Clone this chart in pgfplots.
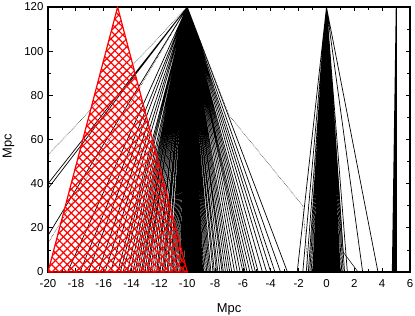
\documentclass[border=0pt]{standalone}
\usepackage{fontspec}
\setmainfont{Liberation Sans}
\usepackage{pgfplots}
\pgfplotsset{compat=1.18}
\usetikzlibrary{patterns.meta}
\begin{document}
\begin{tikzpicture}
\useasboundingbox (-48bp,-44bp) rectangle (367bp,272bp);
\begin{axis}[
 at={(0,0)}, anchor=south west,
 scale only axis, width=362bp, height=265bp,
 xmin=-20, xmax=6, ymin=0, ymax=120,
 xtick={-20,-18,...,6}, ytick={0,20,...,120},
 minor x tick num=1, minor y tick num=1,
 tick align=inside, major tick length=4.5bp, minor tick length=3bp,
 axis line style={line width=1.1bp},
 every tick/.style={black, line width=0.8bp},
 tick label style={font=\fontsize{11.5}{13}\selectfont},
 xticklabel style={yshift=-4bp},
 yticklabel style={xshift=-1bp},
 /pgf/number format/assume math mode=true,
 xlabel={Mpc}, ylabel={Mpc},
 label style={font=\fontsize{13}{15}\selectfont},
 xlabel style={at={(axis description cs:0.5,-0.1547)}, anchor=base},
 ylabel style={at={(axis description cs:-0.1008,0.474)}, anchor=base},
 clip=true,
]
% fan from (-10,120)
\addplot[black, line width=0.7bp, line join=bevel, mark=none] coordinates {
(-10,120) (-25.0,0) (-10,120) (-24.6,0) (-10,120) (-21.6,0) (-10,120) (-18.6,0)
(-10,120) (-17.7,0) (-10,120) (-17.1,0) (-10,120) (-16.4,0) (-10,120) (-15.9,0)
(-10,120) (-15.5,0) (-10,120) (-15.0,0) (-10,120) (-14.8,0) (-10,120) (-14.6,0)
(-10,120) (-14.3,0) (-10,120) (-14.1,0) (-10,120) (-13.9,0) (-10,120) (-13.75,0)
(-10,120) (-13.6,0) (-10,120) (-13.45,0) (-10,120) (-13.3,0) (-10,120) (-13.2,0)
(-10,120) (-13.05,0) (-10,120) (-12.9,0) (-10,120) (-12.8,0) (-10,120) (-12.65,0)
(-10,120) (-12.5,0) (-10,120) (-12.35,0) (-10,120) (-12.2,0) (-10,120) (-12.1,0)
(-10,120) (-11.95,0) (-10,120) (-11.8,0) (-10,120) (-11.7,0) (-10,120) (-11.6,0)
(-10,120) (-11.45,0) (-10,120) (-11.35,0) (-10,120) (-11.2,0) (-10,120) (-11.1,0)
(-10,120) (-11.0,0) (-10,120) (-10.9,0) (-10,120) (-10.8,0) (-10,120) (-10.7,0)
(-10,120) (-10.6,0) (-10,120) (-10.5,0) (-10,120) (-10.42,0) (-10,120) (-10.35,0)
(-10,120) (-10.28,0) (-10,120) (-10.2,0) (-10,120) (-10.14,0) (-10,120) (-10.08,0)
(-10,120) (-10.02,0) (-10,120) (-9.96,0) (-10,120) (-9.9,0) (-10,120) (-9.84,0)
(-10,120) (-9.78,0) (-10,120) (-9.72,0) (-10,120) (-9.66,0) (-10,120) (-9.6,0)
(-10,120) (-9.54,0) (-10,120) (-9.48,0) (-10,120) (-9.42,0) (-10,120) (-9.36,0)
(-10,120) (-9.3,0) (-10,120) (-9.24,0) (-10,120) (-9.18,0) (-10,120) (-9.12,0)
(-10,120) (-9.06,0) (-10,120) (-9.0,0) (-10,120) (-8.94,0) (-10,120) (-8.88,0)
(-10,120) (-8.8,0) (-10,120) (-8.7,0) (-10,120) (-8.6,0) (-10,120) (-8.5,0)
(-10,120) (-8.4,0) (-10,120) (-8.3,0) (-10,120) (-8.15,0) (-10,120) (-8.05,0)
(-10,120) (-7.9,0) (-10,120) (-7.8,0) (-10,120) (-7.65,0) (-10,120) (-7.5,0)
(-10,120) (-7.4,0) (-10,120) (-7.25,0) (-10,120) (-7.1,0) (-10,120) (-6.95,0)
(-10,120) (-6.8,0) (-10,120) (-6.6,0) (-10,120) (-6.4,0) (-10,120) (-6.2,0)
(-10,120) (-6.0,0) (-10,120) (-5.85,0) (-10,120) (-5.7,0) (-10,120) (-5.5,0)
(-10,120) (-5.3,0) (-10,120) (-5.1,0) (-10,120) (-4.9,0) (-10,120) (-4.6,0)
(-10,120) (-4.3,0) (-10,120) (-4.0,0) (-10,120) (-3.7,0) (-10,120) (-3.3,0)
(-10,120) (-2.8,0) (-10,120)
};
% fan from (0,120)
\addplot[black, line width=0.7bp, line join=bevel, mark=none] coordinates {
(0,120) (-2.1,0) (0,120) (-1.7,0) (0,120) (-1.45,0) (0,120) (-1.3,0)
(0,120) (-1.2,0) (0,120) (-1.1,0) (0,120) (-1.0,0) (0,120) (-0.95,0)
(0,120) (-0.9,0) (0,120) (-0.85,0) (0,120) (-0.8,0) (0,120) (-0.75,0)
(0,120) (-0.7,0) (0,120) (-0.65,0) (0,120) (-0.6,0) (0,120) (-0.55,0)
(0,120) (-0.5,0) (0,120) (-0.45,0) (0,120) (-0.4,0) (0,120) (-0.35,0)
(0,120) (-0.3,0) (0,120) (-0.25,0) (0,120) (-0.2,0) (0,120) (-0.15,0)
(0,120) (-0.1,0) (0,120) (-0.05,0) (0,120) (0,0) (0,120) (0.05,0)
(0,120) (0.1,0) (0,120) (0.15,0) (0,120) (0.2,0) (0,120) (0.25,0)
(0,120) (0.3,0) (0,120) (0.35,0) (0,120) (0.4,0) (0,120) (0.45,0)
(0,120) (0.5,0) (0,120) (0.55,0) (0,120) (0.6,0) (0,120) (0.65,0)
(0,120) (0.7,0) (0,120) (0.75,0) (0,120) (0.8,0) (0,120) (0.85,0)
(0,120) (0.9,0) (0,120) (0.95,0) (0,120) (1.0,0) (0,120) (1.1,0)
(0,120) (1.2,0) (0,120) (1.3,0) (0,120) (1.5,0) (0,120) (2.6,0)
(0,120) (3.7,0) (0,120)
};
\addplot[black, line width=0.5bp, mark=none] coordinates {(0,120) (1.2,9) (2.27,0)};
% wedge near x=5
\addplot[black, line width=0.6bp, line join=bevel, mark=none] coordinates {
(5,120) (4.72,0) (5,120) (4.76,0) (5,120) (4.8,0) (5,120) (4.84,0)
(5,120) (4.88,0) (5,120) (4.92,0) (5,120) (4.96,0) (5,120) (5.0,0)
(5,120) (5.03,0) (5,120)
};
\addplot[black, line width=1bp, mark=none] coordinates {(5.02,0) (5.02,120)};
% dotted lines
\addplot[black, line width=0.5bp, densely dotted, mark=none] coordinates {(-10,120) (-27.9,0)};
\addplot[black, line width=0.5bp, densely dotted, mark=none] coordinates {(-10,120) (-21.2,0)};
\addplot[black, line width=0.5bp, densely dotted, mark=none] coordinates {(-10,120) (-7.0,71) (-1.7,30) (-1.3,0)};
% red cone
\addplot[draw=none, pattern={Lines[angle=45,distance=5.6bp,line width=1.2bp]}, pattern color=red] coordinates {(-20,0) (-15,120) (-10,0)} -- cycle;
\addplot[draw=none, pattern={Lines[angle=-45,distance=5.6bp,line width=1.2bp]}, pattern color=red] coordinates {(-20,0) (-15,120) (-10,0)} -- cycle;
\addplot[red, line width=1.2bp, mark=none] coordinates {(-20,0) (-15,120) (-10,0) (-20,0)};
\end{axis}
\end{tikzpicture}
\end{document}
